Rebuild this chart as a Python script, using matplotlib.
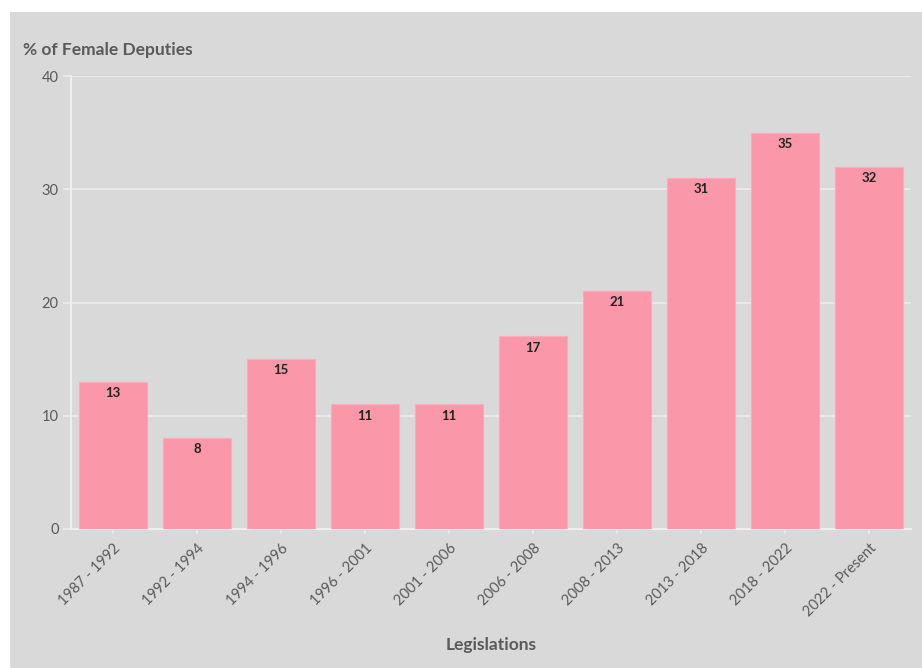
import matplotlib.pyplot as plt
from matplotlib.patches import Rectangle

# Share of women among deputies per legislature
legislations = ['1987 - 1992', '1992 - 1994', '1994 - 1996', '1996 - 2001',
                '2001 - 2006', '2006 - 2008', '2008 - 2013', '2013 - 2018',
                '2018 - 2022', '2022 - Present']
female_pct = [13, 8, 15, 11, 11, 17, 21, 31, 35, 32]
y_ticks = [0, 10, 20, 30, 40]

bg = '#d9d9d9'
bar_color = '#fa97a9'
line_color = '#eeeeee'
text_color = '#5a5a5a'

plt.rcParams['font.family'] = ['Lato', 'DejaVu Sans']

fig = plt.figure(figsize=(9.22, 6.68), dpi=100)
fig.patch.set_facecolor('white')
# grey panel behind the chart
fig.patches.append(Rectangle((10 / 922, 0), 1 - 10 / 922, 1 - 12 / 668,
                             transform=fig.transFigure, facecolor=bg,
                             edgecolor='none', zorder=-1))

ax = fig.add_axes([71 / 922, 1 - 529 / 668, 840 / 922, 453 / 668])
ax.set_facecolor(bg)

x = range(len(legislations))
bars = ax.bar(x, female_pct, width=0.8, color=bar_color,
              edgecolor='#fbabb9', linewidth=0.8, zorder=3)

for xi, v in zip(x, female_pct):
    ax.text(xi, v - 0.45, str(v), ha='center', va='top', fontsize=9.5,
            fontweight='bold', color='#222222', zorder=4)

ax.set_xlim(-0.5, len(legislations) - 0.5)
ax.set_ylim(0, 40)
ax.set_yticks(y_ticks)
ax.set_xticks(list(x))
ax.set_xticklabels(legislations, rotation=45, ha='right',
                   rotation_mode='anchor', fontsize=10.5, color=text_color)
ax.tick_params(axis='y', length=5.8, width=1.1, color=line_color,
               labelsize=10.5, labelcolor=text_color, pad=3)
ax.tick_params(axis='x', length=3.6, width=1.1, color=line_color, pad=5)

ax.grid(axis='y', color=line_color, linewidth=1.1, zorder=0)
ax.set_axisbelow(True)
for side in ['top', 'right']:
    ax.spines[side].set_visible(False)
for side in ['left', 'bottom']:
    ax.spines[side].set_color(line_color)
    ax.spines[side].set_linewidth(1.5)

fig.text(23 / 922, 1 - 50 / 668, '% of Female Deputies', fontsize=12.5,
         fontweight='bold', color=text_color, ha='left', va='center')
fig.text(491 / 922, 1 - 645 / 668, 'Legislations', fontsize=12.5,
         fontweight='bold', color=text_color, ha='center', va='center')

fig.savefig('out.png', dpi=100, facecolor=fig.get_facecolor())
